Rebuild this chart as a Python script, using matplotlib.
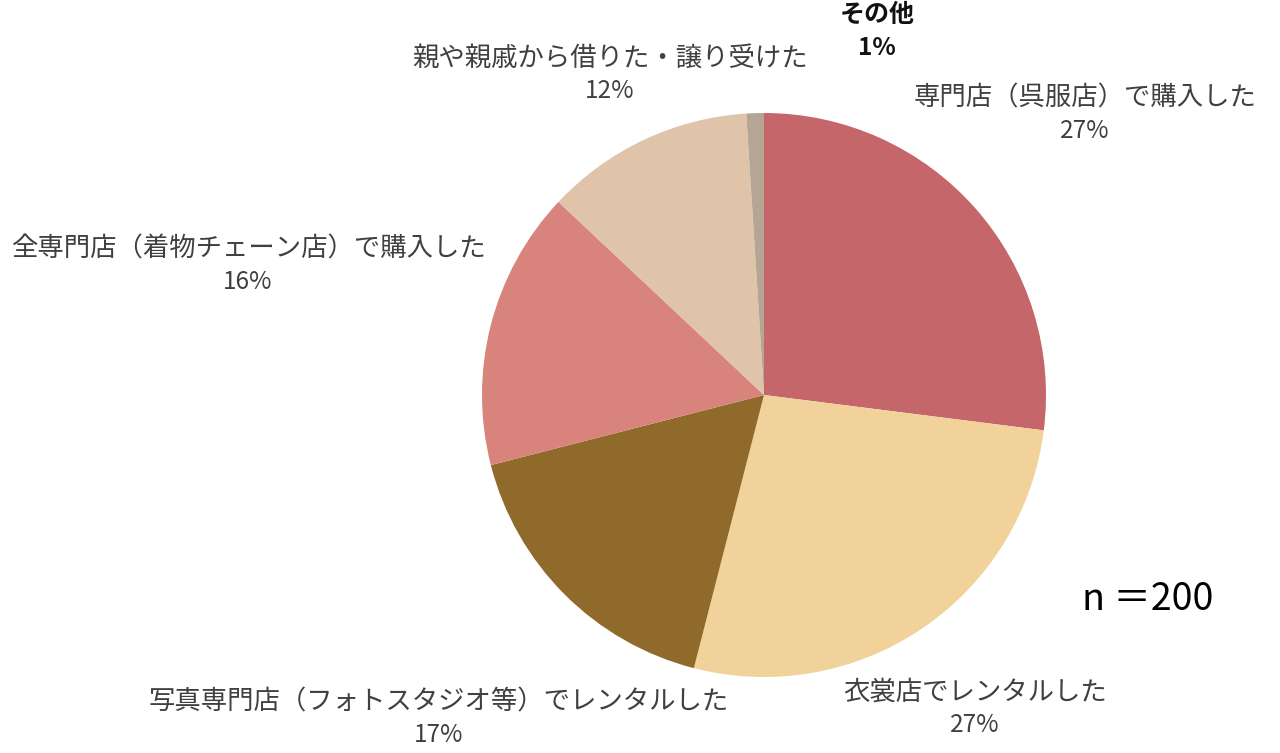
import matplotlib
matplotlib.use("Agg")
import matplotlib.pyplot as plt

plt.rcParams['font.family'] = ['Noto Sans CJK JP', 'DejaVu Sans']

# data
categories = [
    "専門店（呉服店）で購入した",
    "衣裳店でレンタルした",
    "写真専門店（フォトスタジオ等）でレンタルした",
    "全専門店（着物チェーン店）で購入した",
    "親や親戚から借りた・譲り受けた",
    "その他",
]
shares = [27, 27, 17, 16, 12, 1]
colors = ["#C4666A", "#F0D29A", "#8F6A2B", "#D8837C", "#E0C4AA", "#B5A595"]
n_label = "n ＝200"

# label centers in figure pixels (x, y of name line), top-left origin
label_pos = [
    (1085, 98),
    (975, 692),
    (439, 702),
    (248, 249),
    (610, 58),
    (877, 15),
]

W, H = 1280, 753
fig = plt.figure(figsize=(W / 100, H / 100), dpi=100)

cx, cy, r = 764, 395, 282
ax = fig.add_axes([(cx - r) / W, (H - cy - r) / H, 2 * r / W, 2 * r / H])
ax.pie(shares, colors=colors, startangle=90, counterclock=False,
       wedgeprops=dict(linewidth=0))
ax.set_xlim(-1, 1)
ax.set_ylim(-1, 1)
ax.set_aspect("equal")
ax.axis("off")

for i, (name, val) in enumerate(zip(categories, shares)):
    x, y = label_pos[i]
    bold = name == "その他"
    col = "#111111" if bold else "#404040"
    fw = "bold" if bold else "normal"
    fig.text(x / W, 1 - y / H, name, ha="center", va="center",
             fontsize=18 if bold else 19, color=col, fontweight=fw)
    fig.text(x / W, 1 - (y + 33) / H, f"{val}%", ha="center", va="center",
             fontsize=17.5, color=col, fontweight=fw)

fig.text(1148 / W, 1 - 600 / H, n_label, ha="center", va="center",
         fontsize=27, color="black")

fig.savefig("out.png", dpi=100, facecolor="white")
